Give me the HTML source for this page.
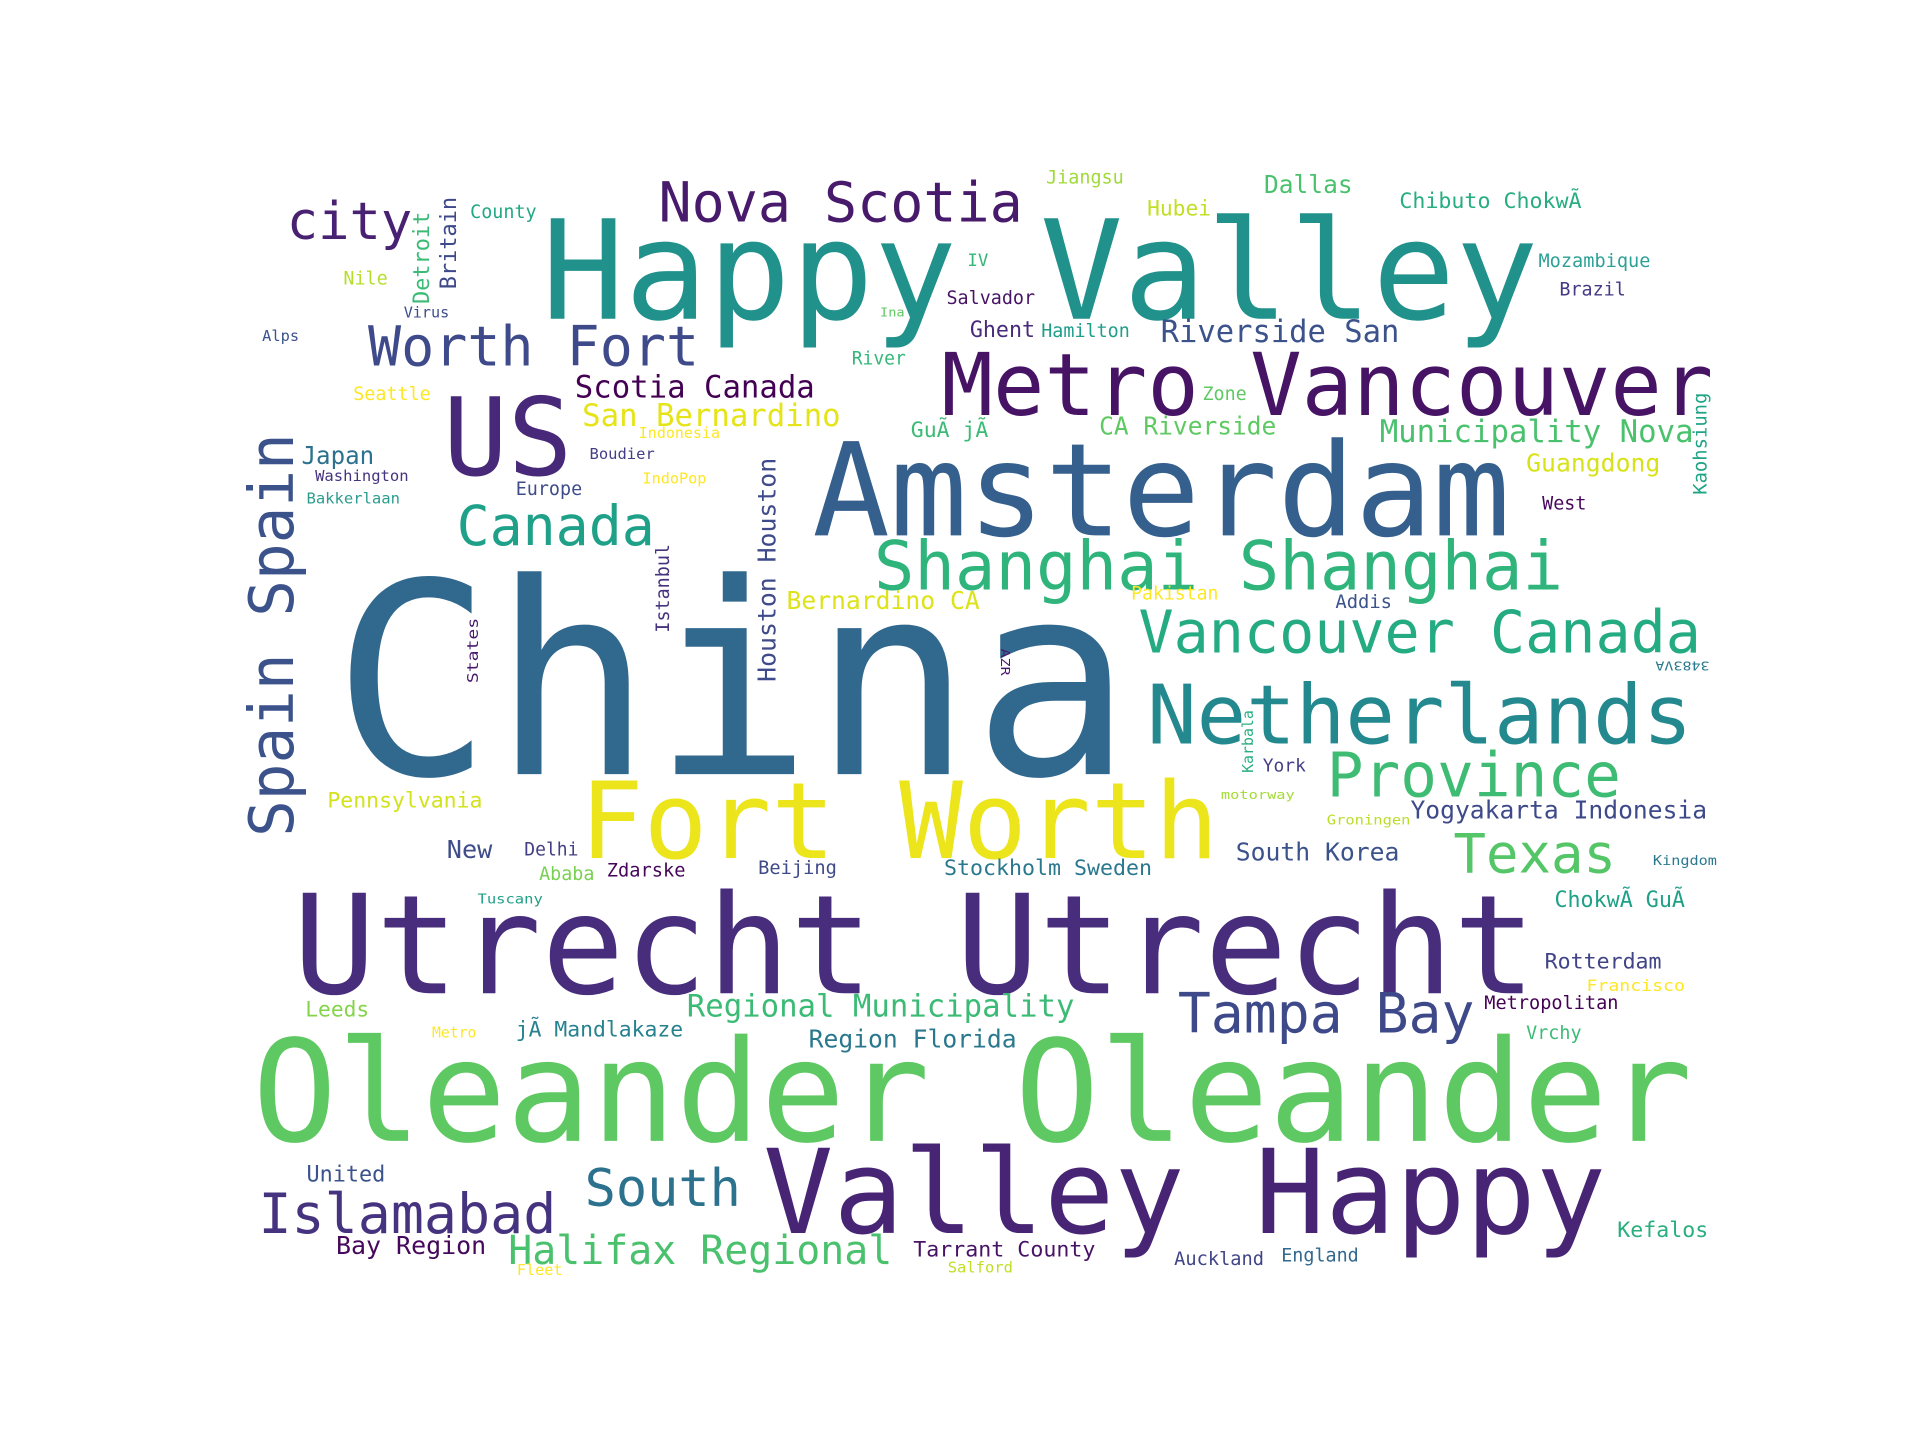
<!DOCTYPE html>
<html><head><meta charset="utf-8"><title>Word cloud</title>
<style>
html,body{margin:0;padding:0;background:#fff;width:1920px;height:1440px;overflow:hidden}
svg{display:block}
text{font-family:"DejaVu Sans Mono","Liberation Mono",monospace}
</style></head>
<body>
<svg width="1920" height="1440" viewBox="0 0 1560 1170" xmlns="http://www.w3.org/2000/svg"><g id="cloud" transform="translate(-5,-3)"></g></svg>
<script>
// [text, x, y, fontSize, length, color, rotation]
const words = [
["Nova Scotia",540,183,45,296,"#481a6c",0],
["city",238,197,42,102,"#482173",0],
["County",387,180,15,54,"#22a884",0],
["Detroit",340,250,18,75,"#3bbb75",-90],
["Britain",362,238,18,75,"#3e4989",-90],
["Happy Valley",445,262,112,810,"#21918c",0],
["Jiangsu",855,152,15,63,"#a0da39",0],
["Dallas",1032,160,20,72,"#4ac16d",0],
["Hubei",937,178,17,52,"#c2df23",0],
["Chibuto ChokwÃ",1142,172,17.6,148,"#27ad81",0],
["Nile",284,234,15,36,"#b5de2b",0],
["Virus",333,261,12,37,"#3d4e8a",0],
["Alps",218,280,12,30,"#3b528b",0],
["IV",791,219,14,17,"#35b779",0],
["Mozambique",1255,220,15,91,"#2ea197",0],
["Brazil",1272,243,15,54,"#443983",0],
["Salvador",774,250,15,72,"#471365",0],
["Ina",720,260,10,20,"#5ec962",0],
["Worth Fort",304,300,45,269,"#3e4a89",0],
["Ghent",793,277,17.7,53,"#472a7a",0],
["Hamilton",851,277,15,72,"#1f9e89",0],
["Riverside San",948,281,25,194,"#3b528b",0],
["River",697,299,15,44,"#35b779",0],
["Metro Vancouver",770,340,70,627,"#471365",0],
["US",365,389,88,105,"#482878",0],
["Seattle",292,328,15,63,"#fde725",0],
["Scotia Canada",472,326,25,195,"#440154",0],
["San Bernardino",478,349,25,210,"#e5e419",0],
["Zone",982,328,15,36,"#5ec962",0],
["CA Riverside",898,356,20,144,"#5ec962",0],
["GuÃ jÃ",745,358,17.5,63,"#3bbb75",0],
["Municipality Nova",1126,362,25,255,"#4ac16d",0],
["Kaohsiung",1380,405,15,83,"#20a486",-90],
["Indonesia",524,359,12,66,"#fde725",0],
["Japan",250,380,20,59,"#2c728e",0],
["Boudier",484,376,12.6,53,"#433e85",0],
["Spain Spain",205,683,50,328,"#3b528b",-90],
["Washington",261,394,12.6,76,"#46337f",0],
["Bakkerlaan",254,412,12.6,76,"#2a9d8e",0],
["Europe",424,405,15,54,"#3e4c8a",0],
["IndoPop",527,396,12.4,52,"#fde725",0],
["Amsterdam",665,438,105,567,"#355f8d",0],
["Guangdong",1245,386,20,109,"#d8e219",0],
["West",1258,417,15,36,"#46085c",0],
["Canada",376,446,45,161,"#1fa088",0],
["Houston Houston",620,557,20,182,"#3e4a89",-90],
["Istanbul",537,517,15,72,"#46337f",-90],
["Shanghai Shanghai",715,482,55,560,"#2fb47c",0],
["Bernardino CA",644,498,20,157,"#dde318",0],
["Pakistan",924,490,15,71,"#fde725",0],
["Addis",1090,497,15,46,"#3b528b",0],
["States",384,558,12.6,53,"#481a6c",-90],
["China",275,632,217,650,"#31688e",0],
["Vancouver Canada",930,533,47.6,457,"#25ab82",0],
["Netherlands",937,607,67,443,"#23898e",0],
["Karbala",1014,631,12,51,"#29af7f",-90],
["Province",1083,650,50,239,"#3fbc73",0],
["York",1031,630,14.6,35,"#433e85",0],
["motorway",997,652,10,60,"#a5db36",0],
["Pennsylvania",271,659,17.5,126,"#d2e21b",0],
["Fort Worth",476,700,86.5,519,"#ece51b",0],
["Groningen",1083,673,11,68,"#b8de29",0],
["Yogyakarta Indonesia",1151,668,20,241,"#3e4989",0],
["New",368,700,20,37,"#3e4c8a",0],
["Delhi",431,698,15,44,"#433e85",0],
["South Korea",1009,702,20,133,"#3b528b",0],
["Texas",1186,712,44,132,"#55c667",0],
["Kingdom",1348,706,11,52,"#2a788e",0],
["Ababa",443,718,15,45,"#7ad151",0],
["Zdarske",498,715,15,64,"#450559",0],
["Beijing",621,713,15,64,"#3e4a89",0],
["Stockholm Sweden",772,714,17.6,169,"#2a788e",0],
["Tuscany",393,737,11,53,"#1fa187",0],
["Utrecht Utrecht",243,810,112,1010,"#472d7b",0],
["ChokwÃ GuÃ",1268,740,17.7,106,"#1fa187",0],
["Rotterdam",1260,790,17.6,95,"#414487",0],
["Francisco",1294,808,13,80,"#fde725",0],
["Leeds",253,829,17,52,"#84d44b",0],
["Regional Municipality",563,829,25,315,"#3bbb75",0],
["Tampa Bay",962,842,44.6,241,"#3e4989",0],
["Metropolitan",1211,823,15,109,"#440154",0],
["Metro",356,846,12,36,"#fde725",0],
["jÃ Mandlakaze",424,845,17.5,136,"#26828e",0],
["Region Florida",662,854,20,169,"#2a788e",0],
["Vrchy",1245,847,15,45,"#3bbb75",0],
["Oleander Oleander",210,930,114.7,1170,"#5ec962",0],
["United",254,963,17.8,64,"#3b528b",0],
["South",480,983,42,127,"#2c728e",0],
["Valley Happy",625,1005,95,685,"#482475",0],
["Islamabad",215,1005,45,242,"#46337f",0],
["Kefalos",1319,1008,17.6,74,"#29af7f",0],
["Bay Region",278,1022,20,122,"#46085c",0],
["Halifax Regional",418,1030,32.5,312,"#4ac16d",0],
["Tarrant County",747,1024,17.6,148,"#471365",0],
["Auckland",959,1031,15,73,"#414487",0],
["England",1046,1028,15,63,"#31688e",0],
["Fleet",425,1039,12,37,"#fde725",0],
["Salford",775,1037,12,53,"#c0df25",0],
["AZR",816,530,10,22,"#481a6c",90],
["3483VA",1350,548,10,44,"#2a788e",180]
];
const g = document.getElementById('cloud');
const NS = 'http://www.w3.org/2000/svg';
words.forEach(w => {
  const [txt, x, y, fs, len, col, rot] = w;
  const t = document.createElementNS(NS, 'text');
  
  
  t.textContent = txt;
  t.setAttribute('font-size', fs);
  t.setAttribute('fill', col);
  t.setAttribute('textLength', len);
  t.setAttribute('lengthAdjust', 'spacingAndGlyphs');
  t.setAttribute('x', 0);
  t.setAttribute('y', 0);
  if (rot === -90) {
    t.setAttribute('transform', 'translate(' + (x + 0.76 * fs) + ',' + y + ') rotate(-90)');
  } else if (rot === 90) {
    t.setAttribute('transform', 'translate(' + (x + 0.24 * fs) + ',' + y + ') rotate(90)');
  } else if (rot === 180) {
    t.setAttribute('transform', 'translate(' + (x + len) + ',' + (y - 0.76 * fs) + ') rotate(180)');
  } else {
    t.setAttribute('transform', 'translate(' + x + ',' + y + ')');
  }
  g.appendChild(t);
});
</script>
</body></html>
